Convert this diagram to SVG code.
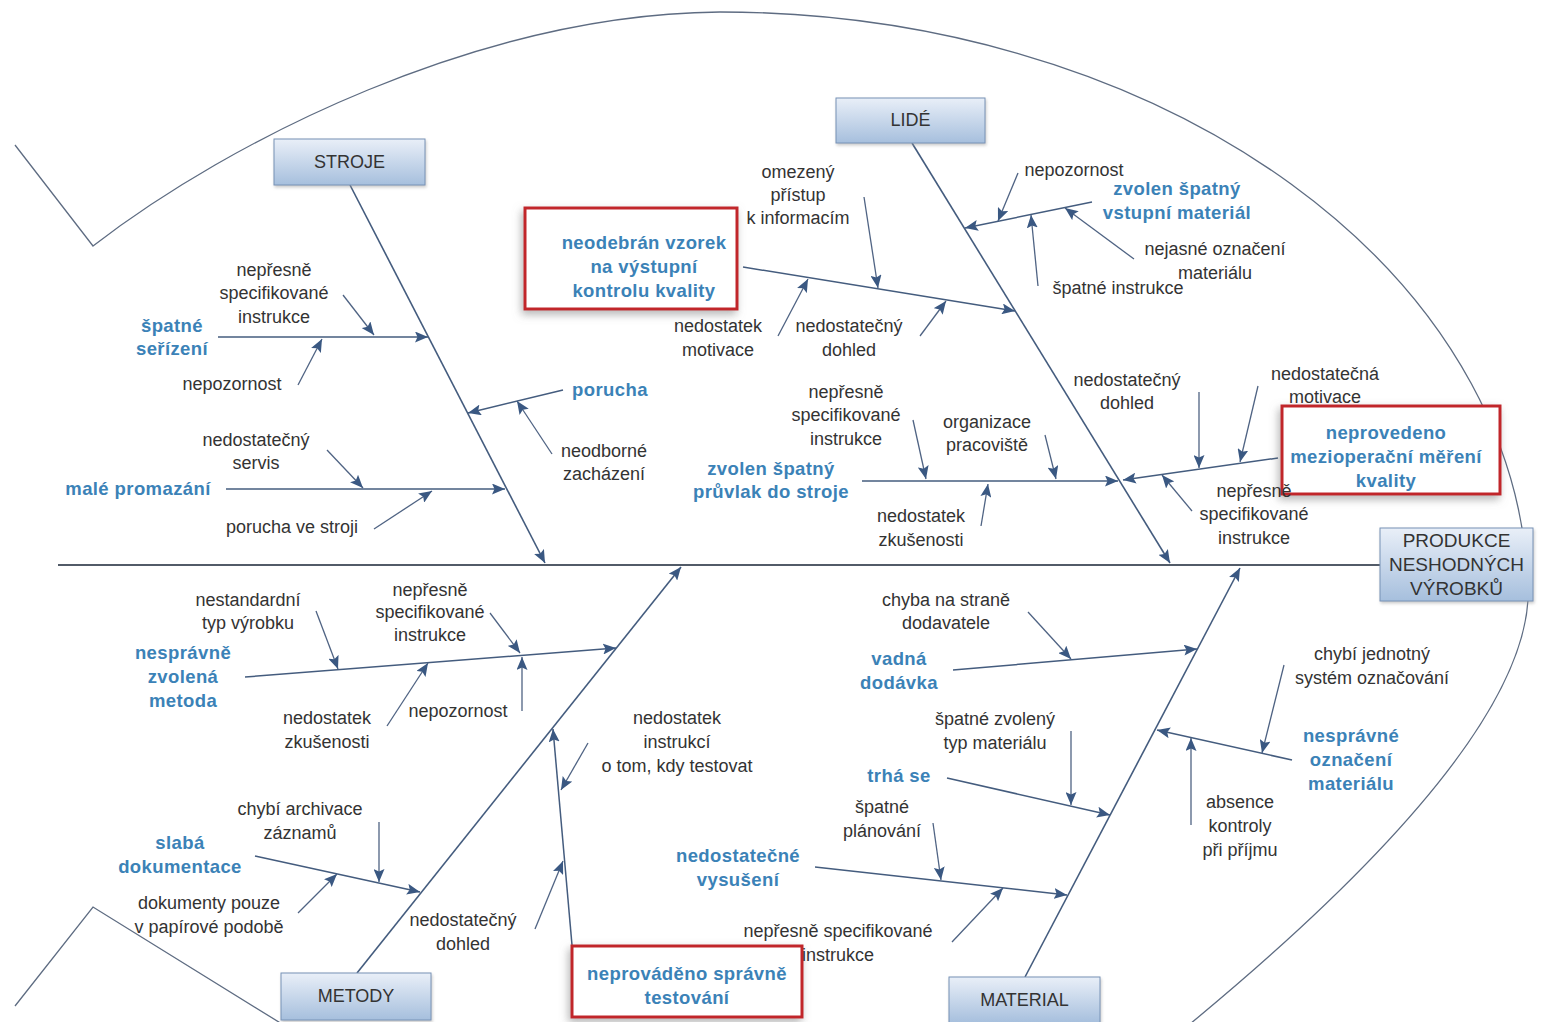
<svg xmlns="http://www.w3.org/2000/svg" width="1543" height="1022" viewBox="0 0 1543 1022">
  <defs>
    <linearGradient id="boxFill" x1="0" y1="0" x2="0" y2="1">
      <stop offset="0" stop-color="#e9eff8"/>
      <stop offset="1" stop-color="#a6bfdd"/>
    </linearGradient>
    <filter id="softShadow" x="-20%" y="-30%" width="140%" height="160%">
      <feDropShadow dx="-2" dy="4" stdDeviation="4" flood-color="#777" flood-opacity="0.55"/>
    </filter>
    <filter id="boxShadow" x="-10%" y="-20%" width="120%" height="140%">
      <feDropShadow dx="1" dy="2" stdDeviation="1.5" flood-color="#999" flood-opacity="0.5"/>
    </filter>
    <marker id="arrow" markerUnits="userSpaceOnUse" markerWidth="14" markerHeight="11" refX="13" refY="5.5" orient="auto">
      <path d="M0,0 L13,5.5 L0,11 L2.5,5.5 Z" fill="#3a5882"/>
    </marker>
    <style>
      .outline { fill: none; stroke: #5e6c82; stroke-width: 1.3; }
      .spine { fill: none; stroke: #525b68; stroke-width: 2; }
      .bone { fill: none; stroke: #445c7e; stroke-width: 1.6; marker-end: url(#arrow); }
      .sub { fill: none; stroke: #445c7e; stroke-width: 1.5; marker-end: url(#arrow); }
      .ter { fill: none; stroke: #4f6383; stroke-width: 1.3; marker-end: url(#arrow); }
      .cat rect { fill: url(#boxFill); stroke: #7792b6; stroke-width: 1; filter: url(#boxShadow); }
      .cat text { font-family: "Liberation Sans", Arial, sans-serif; font-size: 18px; fill: #333; text-anchor: middle; }
      .hl rect { fill: #fff; stroke: #c1262c; stroke-width: 3; filter: url(#softShadow); }
      .b { font-family: "Liberation Sans", Arial, sans-serif; font-size: 18.5px; font-weight: bold; fill: #3b82b7; text-anchor: middle; letter-spacing: 0.4px; }
      .t { font-family: "Liberation Sans", Arial, sans-serif; font-size: 18px; fill: #333; text-anchor: middle; }
    </style>
  </defs>

  <rect width="1543" height="1022" fill="#fff"/>

  <!-- fish outline: tail fins and head curve -->
  <g id="outline">
    <path class="outline" d="M15,145 L93,246 C230,140 480,14 720,12 A808,588 0 0 1 1528,600 C1520,730 1340,900 1190,1024"/>
    <path class="outline" d="M15,1006 L93,907 L282,1024"/>
  </g>

  <!-- connectors: spine, main bones, causes and sub-causes -->
  <g id="connectors">
    <path class="spine" d="M58,565 L1380,565"/>

    <path class="bone" d="M350,185 L545,563"/>
    <path class="bone" d="M912,143 L1170,563"/>
    <path class="bone" d="M357,973 L681,567"/>
    <path class="bone" d="M1025,977 L1240,568"/>

    <path class="sub" d="M218,337 L428,337"/>
    <path class="sub" d="M563,390 L468,413"/>
    <path class="sub" d="M226,489 L505,489"/>
    <path class="sub" d="M743,267 L1015,311"/>
    <path class="sub" d="M1092,202 L965,228"/>
    <path class="sub" d="M862,481 L1118,481"/>
    <path class="sub" d="M1278,458 L1123,480"/>
    <path class="sub" d="M245,677 L616,648"/>
    <path class="sub" d="M255,856 L420,892"/>
    <path class="sub" d="M572,945 L553,729"/>
    <path class="sub" d="M953,670 L1197,649"/>
    <path class="sub" d="M947,778 L1110,815"/>
    <path class="sub" d="M815,867 L1067,895"/>
    <path class="sub" d="M1292,760 L1157,730"/>

    <path class="ter" d="M343,295 L374,335"/>
    <path class="ter" d="M298,385 L322,339"/>
    <path class="ter" d="M552,454 L517,401"/>
    <path class="ter" d="M327,450 L363,488"/>
    <path class="ter" d="M374,529 L432,491"/>
    <path class="ter" d="M864,197 L878,288"/>
    <path class="ter" d="M778,336 L808,279"/>
    <path class="ter" d="M920,336 L946,301"/>
    <path class="ter" d="M1018,173 L998,221"/>
    <path class="ter" d="M1134,259 L1065,208"/>
    <path class="ter" d="M1038,286 L1031,215"/>
    <path class="ter" d="M913,420 L926,479"/>
    <path class="ter" d="M1045,435 L1056,479"/>
    <path class="ter" d="M981,526 L988,484"/>
    <path class="ter" d="M1199,392 L1199,468"/>
    <path class="ter" d="M1258,386 L1240,462"/>
    <path class="ter" d="M1192,511 L1162,475"/>
    <path class="ter" d="M316,611 L338,669"/>
    <path class="ter" d="M490,613 L520,653"/>
    <path class="ter" d="M387,726 L428,663"/>
    <path class="ter" d="M522,711 L522,657"/>
    <path class="ter" d="M379,822 L379,882"/>
    <path class="ter" d="M298,913 L337,874"/>
    <path class="ter" d="M588,743 L561,790"/>
    <path class="ter" d="M535,929 L563,861"/>
    <path class="ter" d="M1028,612 L1071,659"/>
    <path class="ter" d="M1071,731 L1071,805"/>
    <path class="ter" d="M933,823 L941,880"/>
    <path class="ter" d="M952,942 L1003,888"/>
    <path class="ter" d="M1284,665 L1262,753"/>
    <path class="ter" d="M1191,825 L1191,738"/>
  </g>

  <!-- category boxes -->
  <g id="stroje" class="cat"><rect x="274" y="139" width="151" height="46"/><text x="349.5" y="168">STROJE</text></g>
  <g id="lide" class="cat"><rect x="836" y="98" width="149" height="45"/><text x="910.5" y="126">LIDÉ</text></g>
  <g id="metody" class="cat"><rect x="281" y="973" width="150" height="47"/><text x="356" y="1002">METODY</text></g>
  <g id="material" class="cat"><rect x="949" y="977" width="151" height="46"/><text x="1024.5" y="1006">MATERIAL</text></g>
  <g id="produkce" class="cat">
    <rect x="1380" y="528" width="153" height="73"/>
    <text x="1456.5" y="547" style="font-size:19px">PRODUKCE</text>
    <text x="1456.5" y="571" style="font-size:19px">NESHODNÝCH</text>
    <text x="1456.5" y="595" style="font-size:19px">VÝROBKŮ</text>
  </g>

  <!-- highlighted causes -->
  <g id="neodebran" class="hl">
    <rect x="525" y="208" width="212" height="101"/>
    <text class="b" x="644" y="249">neodebrán vzorek</text>
    <text class="b" x="644" y="273">na výstupní</text>
    <text class="b" x="644" y="297">kontrolu kvality</text>
  </g>
  <g id="neprovedeno" class="hl">
    <rect x="1282" y="406" width="218" height="88"/>
    <text class="b" x="1386" y="439">neprovedeno</text>
    <text class="b" x="1386" y="463">mezioperační měření</text>
    <text class="b" x="1386" y="487">kvality</text>
  </g>
  <g id="testovani" class="hl">
    <rect x="572" y="946" width="230" height="71"/>
    <text class="b" x="687" y="980">neprováděno správně</text>
    <text class="b" x="687" y="1004">testování</text>
  </g>

  <!-- causes -->
  <g id="serizeni"><text class="b" x="172" y="332">špatné</text><text class="b" x="172" y="355">seřízení</text></g>
  <g id="porucha"><text class="b" x="610" y="396">porucha</text></g>
  <g id="promazani"><text class="b" x="138" y="495">malé promazání</text></g>
  <g id="vstupni"><text class="b" x="1177" y="195">zvolen špatný</text><text class="b" x="1177" y="219">vstupní materiál</text></g>
  <g id="pruvlak"><text class="b" x="771" y="475">zvolen špatný</text><text class="b" x="771" y="498">průvlak do stroje</text></g>
  <g id="metoda"><text class="b" x="183" y="659">nesprávně</text><text class="b" x="183" y="683">zvolená</text><text class="b" x="183" y="707">metoda</text></g>
  <g id="dokumentace"><text class="b" x="180" y="849">slabá</text><text class="b" x="180" y="873">dokumentace</text></g>
  <g id="dodavka"><text class="b" x="899" y="665">vadná</text><text class="b" x="899" y="689">dodávka</text></g>
  <g id="trha"><text class="b" x="899" y="782">trhá se</text></g>
  <g id="vysuseni"><text class="b" x="738" y="862">nedostatečné</text><text class="b" x="738" y="886">vysušení</text></g>
  <g id="oznaceni"><text class="b" x="1351" y="742">nesprávné</text><text class="b" x="1351" y="766">označení</text><text class="b" x="1351" y="790">materiálu</text></g>

  <!-- sub-causes -->
  <g id="subcauses" class="t">
    <text class="t" x="274" y="276">nepřesně</text>
    <text class="t" x="274" y="299">specifikované</text>
    <text class="t" x="274" y="323">instrukce</text>
    <text class="t" x="232" y="390">nepozornost</text>
    <text class="t" x="256" y="446">nedostatečný</text>
    <text class="t" x="256" y="469">servis</text>
    <text class="t" x="292" y="533">porucha ve stroji</text>
    <text class="t" x="604" y="457">neodborné</text>
    <text class="t" x="604" y="480">zacházení</text>

    <text class="t" x="798" y="178">omezený</text>
    <text class="t" x="798" y="201">přístup</text>
    <text class="t" x="798" y="224">k informacím</text>
    <text class="t" x="718" y="332">nedostatek</text>
    <text class="t" x="718" y="356">motivace</text>
    <text class="t" x="849" y="332">nedostatečný</text>
    <text class="t" x="849" y="356">dohled</text>
    <text class="t" x="1074" y="176">nepozornost</text>
    <text class="t" x="1215" y="255">nejasné označení</text>
    <text class="t" x="1215" y="279">materiálu</text>
    <text class="t" x="1118" y="294">špatné instrukce</text>
    <text class="t" x="846" y="398">nepřesně</text>
    <text class="t" x="846" y="421">specifikované</text>
    <text class="t" x="846" y="445">instrukce</text>
    <text class="t" x="987" y="428">organizace</text>
    <text class="t" x="987" y="451">pracoviště</text>
    <text class="t" x="921" y="522">nedostatek</text>
    <text class="t" x="921" y="546">zkušenosti</text>
    <text class="t" x="1127" y="386">nedostatečný</text>
    <text class="t" x="1127" y="409">dohled</text>
    <text class="t" x="1325" y="380">nedostatečná</text>
    <text class="t" x="1325" y="403">motivace</text>
    <text class="t" x="1254" y="497">nepřesně</text>
    <text class="t" x="1254" y="520">specifikované</text>
    <text class="t" x="1254" y="544">instrukce</text>

    <text class="t" x="248" y="606">nestandardní</text>
    <text class="t" x="248" y="629">typ výrobku</text>
    <text class="t" x="430" y="596">nepřesně</text>
    <text class="t" x="430" y="618">specifikované</text>
    <text class="t" x="430" y="641">instrukce</text>
    <text class="t" x="327" y="724">nedostatek</text>
    <text class="t" x="327" y="748">zkušenosti</text>
    <text class="t" x="458" y="717">nepozornost</text>
    <text class="t" x="300" y="815">chybí archivace</text>
    <text class="t" x="300" y="839">záznamů</text>
    <text class="t" x="209" y="909">dokumenty pouze</text>
    <text class="t" x="209" y="933">v papírové podobě</text>
    <text class="t" x="677" y="724">nedostatek</text>
    <text class="t" x="677" y="748">instrukcí</text>
    <text class="t" x="677" y="772">o tom, kdy testovat</text>
    <text class="t" x="463" y="926">nedostatečný</text>
    <text class="t" x="463" y="950">dohled</text>

    <text class="t" x="946" y="606">chyba na straně</text>
    <text class="t" x="946" y="629">dodavatele</text>
    <text class="t" x="995" y="725">špatné zvolený</text>
    <text class="t" x="995" y="749">typ materiálu</text>
    <text class="t" x="882" y="813">špatné</text>
    <text class="t" x="882" y="837">plánování</text>
    <text class="t" x="838" y="937">nepřesně specifikované</text>
    <text class="t" x="838" y="961">instrukce</text>
    <text class="t" x="1372" y="660">chybí jednotný</text>
    <text class="t" x="1372" y="684">systém označování</text>
    <text class="t" x="1240" y="808">absence</text>
    <text class="t" x="1240" y="832">kontroly</text>
    <text class="t" x="1240" y="856">při příjmu</text>
  </g>
</svg>
